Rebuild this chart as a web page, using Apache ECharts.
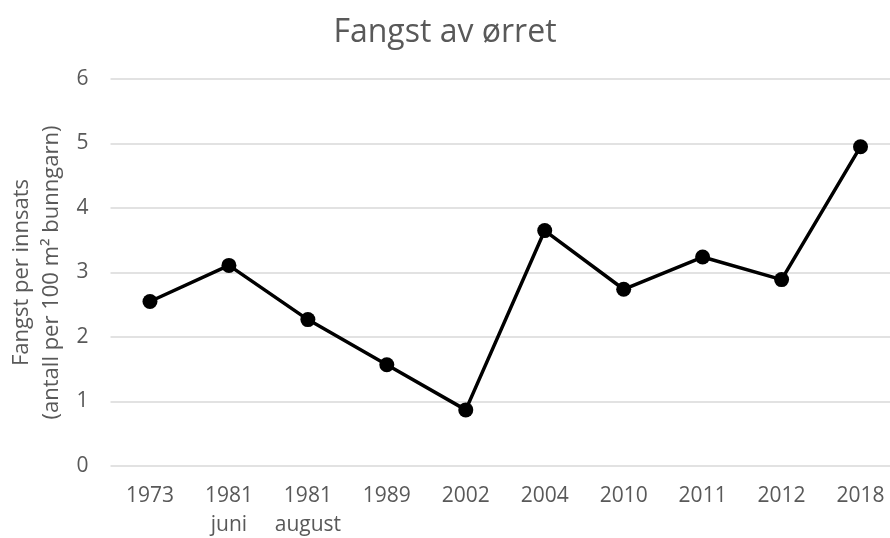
<!DOCTYPE html>
<html><head><meta charset="utf-8">
<script src="https://cdn.jsdelivr.net/npm/echarts@6/dist/echarts.min.js"></script>
<style>html,body{margin:0;padding:0;background:#fff}#c{width:890px;height:538px}</style>
</head><body><div id="c"></div>
<script>
const categories = ['1973', '1981\njuni', '1981\naugust', '1989', '2002', '2004', '2010', '2011', '2012', '2018'];
const values = [2.55, 3.11, 2.27, 1.57, 0.87, 3.65, 2.74, 3.24, 2.89, 4.95];
const titleText = 'Fangst av ørret';
const yAxisName = 'Fangst per innsats\n(antall per 100 m² bunngarn)';
const font = '"Open Sans", sans-serif';
const chart = echarts.init(document.getElementById('c'));
chart.setOption({
  animation: false,
  title: { text: titleText, left: 'center', top: 12,
    textStyle: { fontFamily: font, fontSize: 32, fontWeight: 'normal', color: '#595959' } },
  grid: { left: 110.5, right: -10, top: 79, bottom: 72, containLabel: false, outerBoundsMode: 'none' },
  xAxis: { type: 'category', data: categories, boundaryGap: true,
    axisLine: { show: false }, axisTick: { show: false },
    axisLabel: { fontFamily: font, fontSize: 21, color: '#595959', margin: 16, lineHeight: 29, interval: 0 } },
  yAxis: { type: 'value', min: 0, max: 6, interval: 1,
    name: yAxisName, nameLocation: 'middle', nameRotate: 90, nameGap: 44, nameMoveOverlap: false,
    nameTextStyle: { fontFamily: font, fontSize: 22, color: '#595959', lineHeight: 30 },
    axisLine: { show: false }, axisTick: { show: false },
    axisLabel: { fontFamily: font, fontSize: 21, color: '#595959', margin: 22 },
    splitLine: { lineStyle: { color: '#d9d9d9', width: 1.5 } } },
  series: [{ type: 'line', data: values, symbol: 'circle', symbolSize: 15,
    lineStyle: { color: '#000', width: 3.5 }, itemStyle: { color: '#000' } }]
});
</script></body></html>
